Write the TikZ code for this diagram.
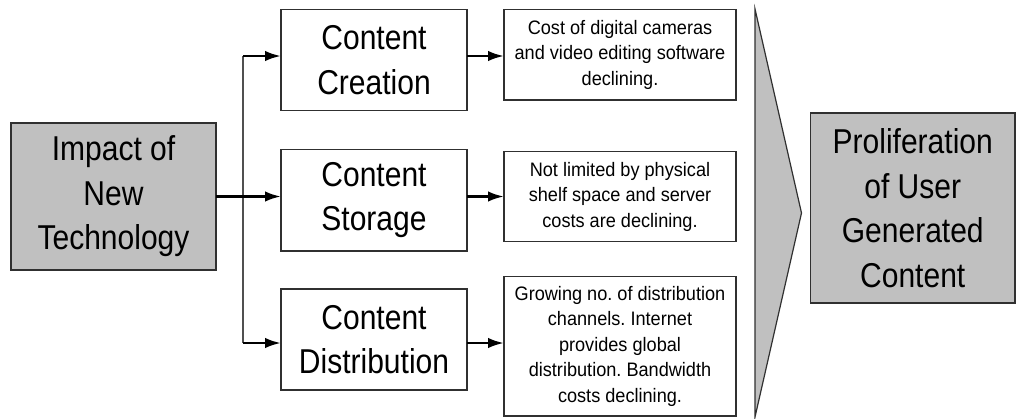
\documentclass[tikz,border=0pt]{standalone}
\usepackage{fontspec}
\setmainfont{Liberation Sans}
\newfontfamily\bigfamily[FakeStretch=0.87]{Liberation Sans}
\newfontfamily\smallfamily[FakeStretch=0.93]{Liberation Sans}
\usetikzlibrary{arrows.meta}
\definecolor{fillgray}{HTML}{C0C0C0}
\definecolor{boxline}{HTML}{303030}
\definecolor{trunkgray}{HTML}{505050}
\begin{document}
\begin{tikzpicture}[x=1pt,y=-1pt,
  bigtxt/.style={font=\frenchspacing\bigfamily\fontsize{34.5}{44.5}\selectfont, align=center},
  smalltxt/.style={font=\frenchspacing\smallfamily\fontsize{19.5}{25.5}\selectfont, align=center},
  box/.style={draw=boxline, line width=1.2pt, inner sep=0pt, outer sep=0pt},
  graybox/.style={box, fill=fillgray},
  arr/.style={line width=2.6pt, -{Latex[length=16pt,width=10.5pt]}},
  trunk/.style={draw=trunkgray, line width=1.5pt}]
\useasboundingbox (0,0) rectangle (1020,418);

% left source
\node[graybox, bigtxt, minimum width=205pt, minimum height=147pt] (imp) at (113.5,196.5)
  {Impact of\\New\\Technology};

% middle boxes
\node[box, bigtxt, minimum width=186pt, minimum height=101pt] (cc) at (374,60)
  {Content\\Creation};
\node[box, bigtxt, minimum width=186pt, minimum height=101.5pt] (cs) at (374,200.25)
  {Content\\Storage};
\node[box, bigtxt, minimum width=186pt, minimum height=101pt] (cd) at (374,339.5)
  {Content\\Distribution};

% right text boxes
\node[box, smalltxt, minimum width=232pt, minimum height=90.5pt] (r1) at (620,54.75)
  {Cost of digital cameras\\and video editing software\\declining.};
\node[box, smalltxt, minimum width=232pt, minimum height=90pt] (r2) at (620,196.6)
  {Not limited by physical\\shelf space and server\\costs are declining.};
\node[box, smalltxt, minimum width=232pt, minimum height=139.5pt] (r3) at (620,346.25)
  {Growing no. of distribution\\channels. Internet\\provides global\\distribution. Bandwidth\\costs declining.};

% chevron
\filldraw[fill=fillgray, draw=boxline, line width=1.2pt, line join=miter]
  (755,9) -- (801.5,213) -- (755,417) -- cycle;

% result
\node[graybox, bigtxt, minimum width=204.5pt, minimum height=190pt] (res) at (912.75,208)
  {Proliferation\\of User\\Generated\\Content};

% connectors
\coordinate (t1) at (243,56);
\coordinate (t3) at (243,343);
\draw[trunk] (t1) -- (t3);
\draw[arr] (t1) -- (t1 -| cc.west);
\draw[arr] (imp.east) -- (imp.east -| cs.west);
\draw[arr] (t3) -- (t3 -| cd.west);
\draw[arr] (cc.east |- t1) -- (r1.west |- t1);
\draw[arr] (cs.east |- imp.east) -- (r2.west |- imp.east);
\draw[arr] (cd.east |- t3) -- (r3.west |- t3);
\end{tikzpicture}
\end{document}
